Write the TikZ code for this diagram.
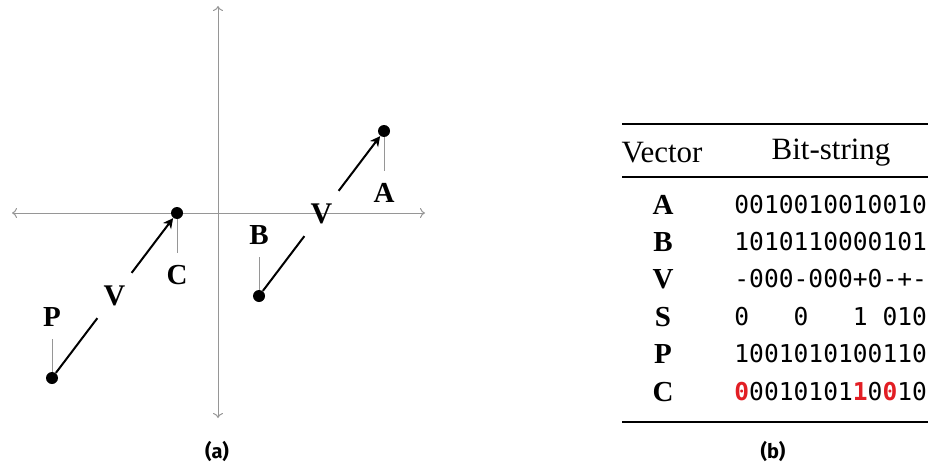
\documentclass[tikz,border=0pt]{standalone}
\usepackage{fontspec}
\setmainfont{Liberation Serif}
\newfontfamily\bitfont{DejaVu Sans Mono}
\newfontfamily\capfont{Fira Sans}
\usepackage{xcolor}
\usepackage{tikz}
\usetikzlibrary{arrows.meta,calc}
\definecolor{bitred}{RGB}{226,30,36}
\definecolor{axisgray}{RGB}{150,150,150}
\newcommand{\flipbit}[1]{\textcolor{bitred}{\textbf{#1}}}
\tikzset{
  dot/.style={circle,fill=black,inner sep=0pt,minimum size=6pt},
  ptlabel/.style={font=\fontsize{14.5}{17}\selectfont\bfseries,inner sep=6pt},
  vlabel/.style={circle,inner sep=0pt,minimum size=28pt,font=\fontsize{15}{17}\selectfont\bfseries},
  axisline/.style={axisgray,line width=0.5pt,{To[length=2.5pt,width=5pt]}-{To[length=2.5pt,width=5pt]}},
  vec/.style={line width=1pt},
  dropline/.style={axisgray,line width=0.5pt},
  rowlabel/.style={font=\fontsize{14.5}{17}\selectfont\bfseries},
  bits/.style={font=\fontsize{12.3}{14}\bitfont,anchor=west,inner sep=0pt}
}

\begin{document}
\begin{tikzpicture}[x=0.5pt,y=-0.5pt]
\useasboundingbox (0,0) rectangle (930,465);

\coordinate (xl) at (12,213);
\coordinate (xr) at (425,213);
\coordinate (yb) at (218,418);
\coordinate (yt) at (218,6);
\draw[axisline] (xl) -- (xr);
\draw[axisline] (yb) -- (yt);

\node[dot] (P) at (52,378) {};
\node[dot] (C) at (177,213) {};
\node[dot] (B) at (259,296) {};
\node[dot] (A) at (384,131) {};

\node[vlabel] (vPC) at ($(P)!0.5!(C)$) {V};
\node[vlabel] (vBA) at ($(B)!0.5!(A)$) {V};
\draw[vec] (P) -- (vPC);
\draw[vec,-{Stealth[length=5pt,width=5pt,inset=1.5pt]}] (vPC) -- (C);
\draw[vec] (B) -- (vBA);
\draw[vec,-{Stealth[length=5pt,width=5pt,inset=1.5pt]}] (vBA) -- (A);

\node[ptlabel] (labP) at (52,317) {P};
\node[ptlabel] (labC) at (177,275) {C};
\node[ptlabel] (labB) at (259,235) {B};
\node[ptlabel] (labA) at (384,193) {A};
\draw[dropline] (P) -- (labP);
\draw[dropline] (C) -- (labC);
\draw[dropline] (B) -- (labB);
\draw[dropline] (A) -- (labA);

\draw[line width=1pt] (622,124) -- (928,124);
\draw[line width=0.6pt] (622,177) -- (928,177);
\draw[line width=1pt] (622,422) -- (928,422);

\node[font=\fontsize{15.5}{18}\selectfont] (hvec) at (662,153) {Vector};
\node[font=\fontsize{15.5}{18}\selectfont] (hbits) at (831,153) {Bit-string};

\node[rowlabel] (rowA) at (663,205) {A};
\node[rowlabel] (rowB) at (663,242) {B};
\node[rowlabel] (rowV) at (663,279) {V};
\node[rowlabel] (rowS) at (663,317) {S};
\node[rowlabel] (rowP) at (663,354) {P};
\node[rowlabel] (rowC) at (663,392) {C};

\node[bits] (bitsA) at (734,205) {0010010010010};
\node[bits] (bitsB) at (734,242) {1010110000101};
\node[bits] (bitsV) at (734,279) {-000-000+0-+-};
\node[bits] (bitsS) at (734,317) {0\phantom{000}0\phantom{000}1\phantom{0}010};
\node[bits] (bitsP) at (734,354) {1001010100110};
\node[bits] (bitsC) at (734,392) {\flipbit{0}0010101\flipbit{1}0\flipbit{0}10};

\node[font={\fontsize{10}{12}\capfont\bfseries}] (capa) at (217,451) {(a)};
\node[font={\fontsize{10}{12}\capfont\bfseries}] (capb) at (773,451) {(b)};
\end{tikzpicture}
\end{document}
